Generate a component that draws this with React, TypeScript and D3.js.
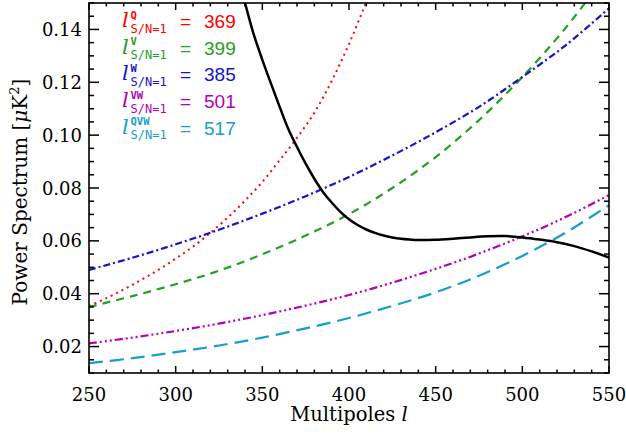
import React from "react";
import * as d3 from "d3";

// ---- data ----
const redL = [250, 260, 270, 280, 290, 300, 310, 320, 330, 340, 350, 360, 370, 380, 390, 400, 410, 420];
const redV = [0.0353, 0.0383, 0.0416, 0.0452, 0.049, 0.0533, 0.0578, 0.063, 0.0688, 0.0752, 0.0823, 0.0905, 0.099, 0.1085, 0.1205, 0.1345, 0.1505, 0.168];

const gridL = [250, 275, 300, 325, 350, 375, 400, 425, 450, 475, 500, 525, 550];
const greenV = [0.035, 0.0391, 0.0436, 0.0487, 0.0549, 0.062, 0.0701, 0.08, 0.0917, 0.1057, 0.122, 0.1406, 0.162];
const blueV = [0.049, 0.0536, 0.0587, 0.0642, 0.0703, 0.0769, 0.0842, 0.0923, 0.1011, 0.1107, 0.122, 0.134, 0.148];
const magentaV = [0.0212, 0.0234, 0.0259, 0.0287, 0.0319, 0.0355, 0.0395, 0.0442, 0.0494, 0.0552, 0.0617, 0.069, 0.0773];
const cyanV = [0.0137, 0.0156, 0.0179, 0.0204, 0.0234, 0.0269, 0.0308, 0.0354, 0.0405, 0.0468, 0.0543, 0.0631, 0.0735];

const blackL = [335, 340, 345, 350, 355, 360, 365, 370, 375, 380, 385, 390, 395, 400, 405, 410, 415, 420, 425, 430, 435, 440, 450, 460, 470, 480, 490, 500, 510, 520, 530, 540, 550];
const blackV = [0.162, 0.15, 0.1382, 0.1285, 0.1195, 0.1107, 0.1023, 0.0955, 0.0892, 0.0835, 0.0785, 0.0745, 0.071, 0.0682, 0.066, 0.0643, 0.063, 0.062, 0.0613, 0.0608, 0.0605, 0.0603, 0.0604, 0.0608, 0.0613, 0.0617, 0.0618, 0.0613, 0.0605, 0.0595, 0.058, 0.056, 0.0537];

const xMajor = [250, 300, 350, 400, 450, 500, 550];
const yMajor = [0.02, 0.04, 0.06, 0.08, 0.1, 0.12, 0.14];

const legendSup = ["Q", "V", "W", "VW", "QVW"];
const legendVal = [369, 399, 385, 501, 517];

const RED = "#ff0000";
const GREEN = "#22a022";
const BLUE = "#1414c8";
const MAGENTA = "#b400b4";
const CYAN = "#14a0c8";
const legendColors = [RED, GREEN, BLUE, MAGENTA, CYAN];

// ---- layout ----
const W = 626;
const H = 434;
const X0 = 89, X1 = 609, Y0 = 3, Y1 = 373;

export default function App() {
  const x = d3.scaleLinear().domain([250, 550]).range([X0, X1]);
  const y = d3.scaleLinear().domain([0.01, 0.15]).range([Y1, Y0]);

  const line = d3
    .line<[number, number]>()
    .x((d) => x(d[0]))
    .y((d) => y(d[1]))
    .curve(d3.curveCatmullRom.alpha(0.5));

  const zip = (ls: number[], vs: number[]) => ls.map((l, i) => [l, vs[i]] as [number, number]);

  const series = [
    { pts: zip(redL, redV), color: RED, dash: "2,4", w: 2 },
    { pts: zip(gridL, greenV), color: GREEN, dash: "8,6", w: 2.2 },
    { pts: zip(gridL, blueV), color: BLUE, dash: "7,3,2,3", w: 2.2 },
    { pts: zip(gridL, magentaV), color: MAGENTA, dash: "8,3,2,3,2,3,2,3", w: 2.2 },
    { pts: zip(gridL, cyanV), color: CYAN, dash: "14,7", w: 2.2 },
    { pts: zip(blackL, blackV), color: "#000", dash: null, w: 2.5 },
  ];

  const xMinor = d3.range(250, 551, 10).filter((v) => !xMajor.includes(v));
  const yMinor = d3.range(0.01, 0.1501, 0.005).map((v) => +v.toFixed(3)).filter((v) => !yMajor.some((m) => Math.abs(m - v) < 1e-9));

  const serif = "'DejaVu Serif', serif";

  return (
    <div style={{ position: "fixed", left: 0, top: 0 }}>
      <svg width={W} height={H} style={{ display: "block", background: "#fff" }}>
        <defs>
          <clipPath id="plotclip">
            <rect x={X0} y={Y0} width={X1 - X0} height={Y1 - Y0} />
          </clipPath>
        </defs>
        <g clipPath="url(#plotclip)">
          {series.map((s, i) => (
            <path
              key={i}
              d={line(s.pts) || ""}
              fill="none"
              stroke={s.color}
              strokeWidth={s.w}
              strokeDasharray={s.dash || undefined}
            />
          ))}
        </g>
        {/* ticks */}
        <g stroke="#000" strokeWidth={1.5}>
          {xMajor.map((v) => (
            <g key={"xM" + v}>
              <line x1={x(v)} x2={x(v)} y1={Y1} y2={Y1 - 7} />
              <line x1={x(v)} x2={x(v)} y1={Y0} y2={Y0 + 7} />
            </g>
          ))}
          {xMinor.map((v) => (
            <g key={"xm" + v}>
              <line x1={x(v)} x2={x(v)} y1={Y1} y2={Y1 - 3.5} />
              <line x1={x(v)} x2={x(v)} y1={Y0} y2={Y0 + 3.5} />
            </g>
          ))}
          {yMajor.map((v) => (
            <g key={"yM" + v}>
              <line x1={X0} x2={X0 + 10} y1={y(v)} y2={y(v)} />
              <line x1={X1} x2={X1 - 10} y1={y(v)} y2={y(v)} />
            </g>
          ))}
          {yMinor.map((v) => (
            <g key={"ym" + v}>
              <line x1={X0} x2={X0 + 5} y1={y(v)} y2={y(v)} />
              <line x1={X1} x2={X1 - 5} y1={y(v)} y2={y(v)} />
            </g>
          ))}
        </g>
        <rect x={X0} y={Y0} width={X1 - X0} height={Y1 - Y0} fill="none" stroke="#000" strokeWidth={1.6} />
        {/* tick labels */}
        <g fontFamily={serif} fontSize={18} fill="#000">
          {xMajor.map((v) => (
            <text key={"xl" + v} x={x(v)} y={401} textAnchor="middle">
              {v}
            </text>
          ))}
          {yMajor.map((v) => (
            <text key={"yl" + v} x={82} y={y(v) + 6.5} textAnchor="end">
              {v.toFixed(2)}
            </text>
          ))}
        </g>
        {/* axis titles */}
        <text x={(X0 + X1) / 2} y={421} textAnchor="middle" fontFamily={serif} fontSize={19.5}>
          Multipoles <tspan fontStyle="italic">l</tspan>
        </text>
        <text
          transform={`translate(27,${(Y0 + Y1) / 2 + 4}) rotate(-90)`}
          textAnchor="middle"
          fontFamily={serif}
          fontSize={20}
        >
          Power Spectrum [<tspan fontStyle="italic">μ</tspan>K
          <tspan fontSize={13} dy={-8}>2</tspan>
          <tspan dy={8}>]</tspan>
        </text>
        {/* legend */}
        {legendSup.map((s, i) => {
          const by = 28 + i * 26.7;
          const c = legendColors[i];
          return (
            <g key={"lg" + i} fill={c}>
              <text x={122} y={by - 1} fontFamily={serif} fontStyle="italic" fontSize={21}>
                l
              </text>
              <text x={130.5} y={by - 9.5} fontFamily="'DejaVu Sans Mono', monospace" fontWeight="bold" fontSize={10.5}>
                {s}
              </text>
              <text x={130.5} y={by + 4.5} fontFamily="'DejaVu Sans Mono', monospace" fontSize={12}>
                S/N=1
              </text>
              <text x={180} y={by} fontFamily="'Liberation Sans', Arial, sans-serif" fontSize={19}>
                =
              </text>
              <text x={204} y={by} fontFamily="'Liberation Sans', Arial, sans-serif" fontSize={19}>
                {legendVal[i]}
              </text>
            </g>
          );
        })}
      </svg>
    </div>
  );
}
